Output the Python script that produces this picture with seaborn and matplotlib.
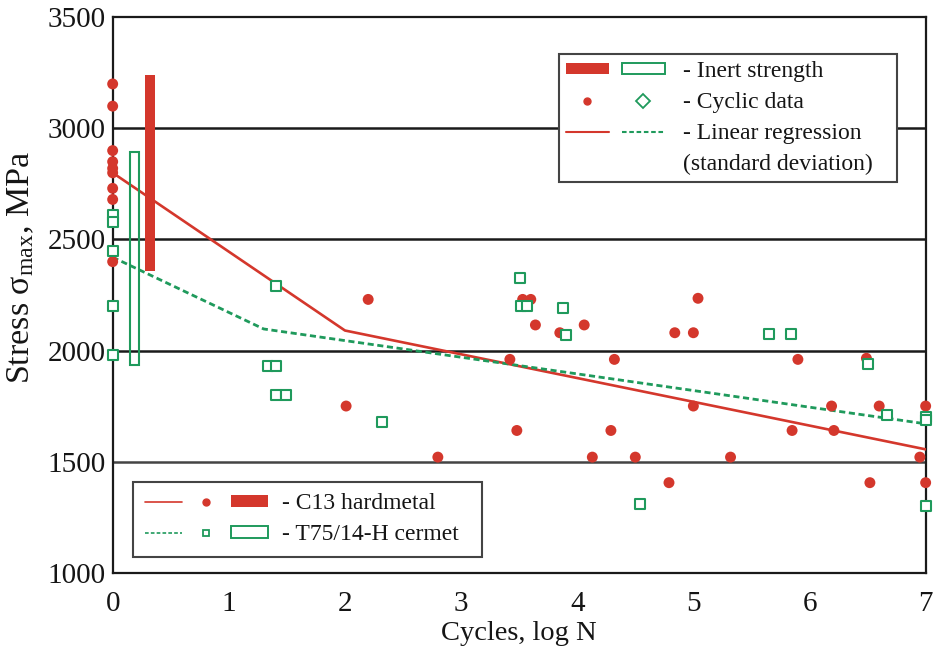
import numpy as np
import pandas as pd
import matplotlib
matplotlib.use("Agg")
import matplotlib.pyplot as plt
from matplotlib.lines import Line2D
from matplotlib.patches import Patch
from matplotlib.legend_handler import HandlerTuple
import seaborn as sns

sns.set_style("white")
plt.rcParams["font.family"] = ["Liberation Serif", "DejaVu Serif"]
plt.rcParams["mathtext.fontset"] = "custom"
plt.rcParams["mathtext.rm"] = "Liberation Serif"
plt.rcParams["mathtext.it"] = "Liberation Serif:italic"
plt.rcParams["text.color"] = "#151515"
plt.rcParams["xtick.color"] = "#151515"
plt.rcParams["ytick.color"] = "#151515"
plt.rcParams["axes.labelcolor"] = "#151515"

RED = "#d4372c"
GREEN = "#1f9a5c"

# C13 hardmetal cyclic fatigue results (log N, max stress in MPa)
c13_logn = [0, 0, 0, 0, 0, 0, 0, 0, 0,
            2.20, 2.01, 2.80, 3.42, 3.48, 3.53, 3.60, 3.64, 3.85, 4.06,
            4.13, 4.29, 4.32, 4.50, 4.79, 4.84, 5.00, 5.04, 5.00, 5.32,
            5.85, 5.90, 6.19, 6.21, 6.49, 6.52, 6.60, 6.95, 7.0, 7.0]
c13_stress = [3200, 3100, 2900, 2850, 2820, 2800, 2730, 2680, 2400,
              2230, 1750, 1520, 1960, 1640, 2230, 2230, 2115, 2080, 2115,
              1520, 1640, 1960, 1520, 1405, 2080, 2080, 2235, 1750, 1520,
              1640, 1960, 1750, 1640, 1965, 1405, 1750, 1520, 1750, 1405]

# T75/14-H cermet cyclic fatigue results
t75_logn = [0, 0, 0, 0, 0,
            1.34, 1.41, 1.41, 1.49, 1.41, 2.32, 3.51, 3.52, 3.57, 3.88,
            3.90, 4.54, 5.65, 5.84, 6.50, 6.67, 7.0, 7.0, 7.0]
t75_stress = [2610, 2580, 2450, 2200, 1980,
              1930, 1930, 1800, 1800, 2290, 1680, 2325, 2200, 2200, 2190,
              2070, 1310, 2075, 2075, 1940, 1710, 1700, 1685, 1300]

# Regression curves (knots of the fitted lines)
c13_fit_logn = [0, 2.0, 7.0]
c13_fit_stress = [2800, 2090, 1555]
t75_fit_logn = [0, 1.3, 7.0]
t75_fit_stress = [2420, 2097, 1670]

# Inert strength ranges (plotted as bars just right of log N = 0)
inert_pos = [0.32, 0.185]
inert_low = [2360, 1935]
inert_high = [3240, 2895]

grid_levels = [1500, 2000, 2500, 3000]
x_ticks = [0, 1, 2, 3, 4, 5, 6, 7]
y_ticks = [1000, 1500, 2000, 2500, 3000, 3500]

fig = plt.figure(figsize=(9.35, 6.48), dpi=100)
ax = fig.add_axes([0.1205, 0.1163, 0.8695, 0.8570])

for lvl in grid_levels:
    ax.axhline(lvl, color="#444444" if lvl == 1500 else "#1a1a1a", lw=1.8, zorder=1)

# Inert strength bars
ax.bar(inert_pos[0], inert_high[0] - inert_low[0], bottom=inert_low[0], width=0.085,
       color=RED, edgecolor="none", zorder=4)
ax.bar(inert_pos[1], inert_high[1] - inert_low[1], bottom=inert_low[1], width=0.075,
       facecolor="none", edgecolor=GREEN, lw=1.5, zorder=4)

fits = pd.DataFrame({"logn": c13_fit_logn + t75_fit_logn,
                     "stress": c13_fit_stress + t75_fit_stress,
                     "grade": ["C13"] * 3 + ["T75"] * 3})
sns.lineplot(data=fits[fits.grade == "C13"], x="logn", y="stress", color=RED, lw=1.9,
             ax=ax, zorder=3, sort=False)
sns.lineplot(data=fits[fits.grade == "T75"], x="logn", y="stress", color=GREEN, lw=2.0,
             ax=ax, zorder=3, sort=False, linestyle=(0, (2.2, 1.3)))

sns.scatterplot(x=c13_logn, y=c13_stress, color=RED, s=62, edgecolor="none",
                ax=ax, zorder=5, clip_on=False)
sns.scatterplot(x=t75_logn, y=t75_stress, marker="s", s=44, facecolor="white",
                edgecolor=GREEN, linewidth=1.5, ax=ax, zorder=6, clip_on=False)

ax.set_xlim(0, 7)
ax.set_ylim(1000, 3500)
ax.set_xticks(x_ticks)
ax.set_yticks(y_ticks)
ax.tick_params(axis="x", length=4, width=1.2, color="#1a1a1a", labelsize=21, pad=9)
ax.tick_params(axis="y", length=0, labelsize=21, pad=5)
for s in ax.spines.values():
    s.set_visible(True)
    s.set_color("#1a1a1a")
    s.set_linewidth(1.6)
ax.set_xlabel("Cycles, log N", fontsize=20.5, labelpad=3)
ax.set_ylabel("Stress σ$_{\\mathrm{max}}$, MPa", fontsize=24.5)
ax.yaxis.set_label_coords(-0.094, 0.549)

# Upper key: symbol meanings
h_inert = (Patch(facecolor=RED, edgecolor="none"),
           Patch(facecolor="white", edgecolor=GREEN, lw=1.4))
h_cyc = (Line2D([], [], ls="none", marker="o", ms=5, color=RED),
         Line2D([], [], ls="none", marker="D", ms=7, mfc="white", mec=GREEN, mew=1.3))
h_reg = (Line2D([], [], color=RED, lw=1.5),
         Line2D([], [], color=GREEN, lw=1.5, ls=(0, (2.2, 1.3))))
h_blank = Line2D([], [], ls="none")
leg1 = ax.legend([h_inert, h_cyc, h_reg, h_blank],
                 ["- Inert strength", "- Cyclic data", "- Linear regression",
                  "(standard deviation)   "],
                 handler_map={tuple: HandlerTuple(ndivide=None, pad=0.55)},
                 loc="upper right", bbox_to_anchor=(0.965, 0.934), borderaxespad=0,
                 fontsize=17, handlelength=4.2, handleheight=0.3, handletextpad=0.75,
                 labelspacing=0.42, fancybox=False, framealpha=1, edgecolor="#444444",
                 borderpad=0.3)
leg1.get_frame().set_linewidth(1.5)
ax.add_artist(leg1)

# Lower key: materials
h_c13 = (Line2D([], [], color=RED, lw=1.2),
         Line2D([], [], ls="none", marker="o", ms=5, color=RED),
         Patch(facecolor=RED, edgecolor="none"))
h_t75 = (Line2D([], [], color=GREEN, lw=1.2, ls=(0, (2.2, 1.3))),
         Line2D([], [], ls="none", marker="s", ms=5, mfc="white", mec=GREEN, mew=1.3),
         Patch(facecolor="white", edgecolor=GREEN, lw=1.4))
leg2 = ax.legend([h_c13, h_t75], ["- C13 hardmetal", "- T75/14-H cermet  "],
                 handler_map={tuple: HandlerTuple(ndivide=None, pad=0.25)},
                 loc="lower left", bbox_to_anchor=(0.025, 0.028), borderaxespad=0,
                 fontsize=17, handlelength=5.2, handleheight=0.38, handletextpad=0.6,
                 labelspacing=0.42, fancybox=False, framealpha=1, edgecolor="#444444",
                 borderpad=0.5)
leg2.get_frame().set_linewidth(1.5)

fig.savefig("out.png", dpi=100)
